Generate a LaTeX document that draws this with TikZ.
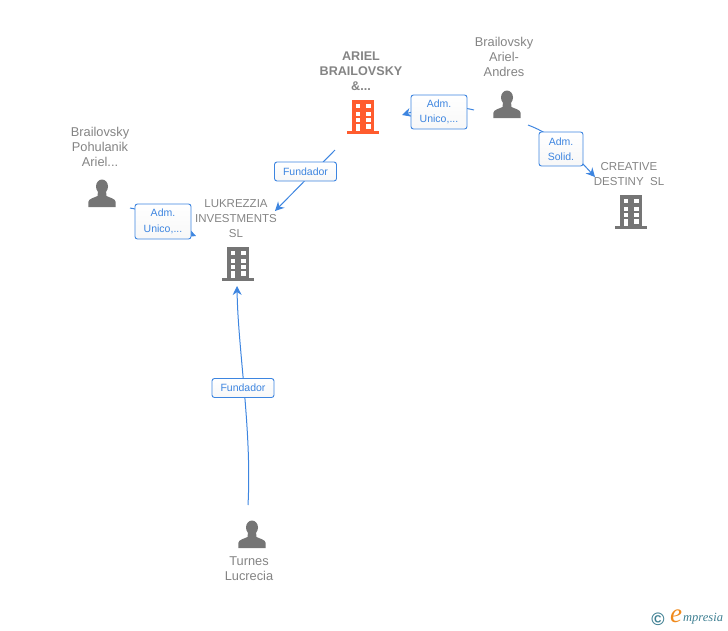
\documentclass[tikz,border=0pt]{standalone}
\usepackage{fontspec}
\setmainfont{Liberation Sans}
\newfontfamily\logofont{Liberation Serif}
\definecolor{iconGrey}{HTML}{757575}
\definecolor{txtGrey}{HTML}{848484}
\definecolor{linkBlue}{HTML}{3D85E0}
\definecolor{hotOrange}{HTML}{FF5C2E}
\definecolor{logoTeal}{HTML}{3E7F92}
\definecolor{logoOrange}{HTML}{F08A1D}
\usetikzlibrary{arrows.meta}
\tikzset{
  buildingicon/.pic={
    \fill[pic actions] (-11,-34) rectangle (11,-3);
    \fill[pic actions] (-16,-3) rectangle (16,0);
    \foreach \yy in {-30,-22,-16} {
      \fill[white] (-7.5,\yy) rectangle (-2.8,\yy+4.2);
      \fill[white] (2.8,\yy) rectangle (7.5,\yy+4.2);
    }
    \fill[white] (-7.5,-10) rectangle (-2.8,-3);
    \fill[white] (2.8,-10) rectangle (7.5,-5.5);
  },
  personicon/.pic={
    \fill[pic actions] (0,-20.5) ellipse (6 and 7);
    \fill[pic actions] (-13.7,0) -- (-13.7,-5) .. controls (-13.5,-8.5) and (-7,-9.5) .. (-4.5,-11)
      -- (-4,-16) -- (4,-16) -- (4.5,-11) .. controls (7,-9.5) and (13.5,-8.5) .. (13.7,-5) -- (13.7,0) -- cycle;
  },
  nodetext/.style={text=txtGrey,font=\fontsize{11.5}{15}\selectfont,align=center,inner sep=0pt},
  persontext/.style={nodetext,font=\fontsize{12.8}{15}\selectfont},
  boldtext/.style={nodetext,font=\fontsize{12.6}{15}\selectfont\bfseries},
  linklabel/.style={draw=linkBlue,line width=0.9pt,rounded corners=2.5pt,top color=white,bottom color=black!3,
    text=linkBlue,font=\fontsize{10.5}{15.5}\selectfont,align=center,inner sep=0pt},
  link/.style={draw=linkBlue,line width=1pt,-{Stealth[length=9pt,width=9pt]}},
}
\begin{document}
\begin{tikzpicture}[x=1pt,y=-1pt]
\useasboundingbox (0,0) rectangle (728,630);
% icons
\pic[fill=hotOrange] at (363,134) {buildingicon};
\pic[fill=iconGrey] at (238,281) {buildingicon};
\pic[fill=iconGrey] at (631,229) {buildingicon};
\pic[fill=iconGrey] at (102,207) {personicon};
\pic[fill=iconGrey] at (507,118) {personicon};
\pic[fill=iconGrey] at (252,548) {personicon};
% texts
\node[boldtext] (ariel) at (361,71) {ARIEL\\BRAILOVSKY\\\&...};
\node[nodetext] (lukrezzia) at (236,218.7) {LUKREZZIA\\INVESTMENTS\\SL};
\node[nodetext] (creative) at (629,174.5) {CREATIVE\\DESTINY\ \ SL};
\node[persontext] (ppohu) at (100,146.5) {Brailovsky\\Pohulanik\\Ariel...};
\node[persontext] (pandres) at (504,56.5) {Brailovsky\\Ariel-\\Andres};
\node[persontext] (pturnes) at (249,568.7) {Turnes\\Lucrecia};
% connector ends
\coordinate (s1) at (474,110); \coordinate (e1) at (402,115);
\coordinate (s2) at (528,125); \coordinate (e2) at (595,177);
\coordinate (s3) at (335,150); \coordinate (e3) at (275,211);
\coordinate (s4) at (130,208); \coordinate (e4) at (196,236);
\coordinate (s5) at (248,505); \coordinate (e5) at (237,286);
% connectors
\draw[link] (s1) .. controls (450,104) and (425,108) .. (e1);
\draw[link] (s2) .. controls (555,135) and (575,155) .. (e2);
\draw[link] (s3) -- (e3);
\draw[link] (s4) .. controls (155,212) and (175,228) .. (e4);
\draw[link] (s5) .. controls (252,430) and (238,350) .. (e5);
% labels
\node[linklabel,minimum width=56pt,minimum height=34pt] (l1) at (439,112) {\raisebox{-0.8pt}{Adm.}\\\raisebox{-0.8pt}{Unico,...}};
\node[linklabel,minimum width=44pt,minimum height=34pt] (l2) at (561,149) {\raisebox{-0.8pt}{Adm.}\\\raisebox{-0.8pt}{Solid.}};
\node[linklabel,minimum width=62pt,minimum height=19pt] (l3) at (305.5,171.5) {Fundador};
\node[linklabel,minimum width=56pt,minimum height=35pt] (l4) at (163,221.5) {\raisebox{-0.8pt}{Adm.}\\\raisebox{-0.8pt}{Unico,...}};
\node[linklabel,minimum width=62pt,minimum height=19pt] (l5) at (243,388) {Fundador};
% logo
\node[text=logoTeal,inner sep=0pt,font=\bfseries\fontsize{18}{18}\selectfont] (copy) at (658,619) {©};
\node[text=logoOrange,inner sep=0pt,font=\logofont\itshape\fontsize{27}{27}\selectfont] (logoe) at (676,616) {e};
\node[text=logoTeal,inner sep=0pt,anchor=west,font=\logofont\itshape\fontsize{12.5}{14}\selectfont] (logot) at (683,619) {mpresia};
\end{tikzpicture}
\end{document}
